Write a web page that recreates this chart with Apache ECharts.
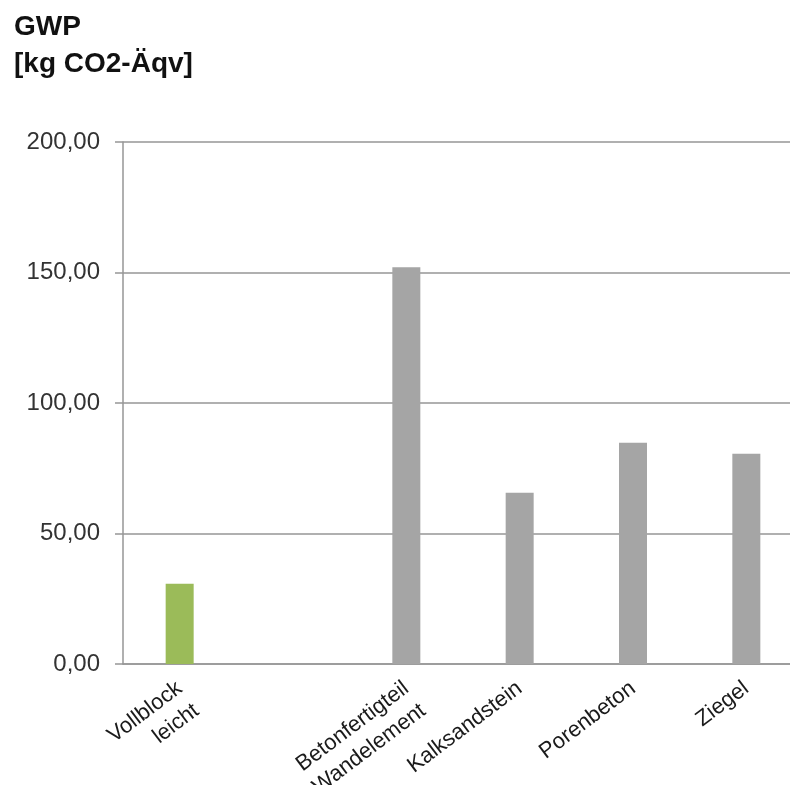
<!DOCTYPE html>
<html>
<head>
<meta charset="utf-8">
<script src="https://cdn.jsdelivr.net/npm/echarts@6/dist/echarts.min.js"></script>
<style>
  html, body { margin: 0; padding: 0; background: #fff; overflow: hidden; }
  #chart { width: 820px; height: 785px; }
</style>
</head>
<body>
<div id="chart"></div>
<script>
// Kategorien (zweite Position bleibt leer wie im Original)
var categories = ['Vollblock\nleicht', '', 'Betonfertigteil\nWandelement', 'Kalksandstein', 'Porenbeton', 'Ziegel'];
var gwpValues = [30.7, null, 152, 65.6, 84.8, 80.6];
var barColors = ['#9bbb59', '#a5a5a5', '#a5a5a5', '#a5a5a5', '#a5a5a5', '#a5a5a5'];
var yTicks = [0, 50, 100, 150, 200];

// Diagramm ragt rechts etwas über den sichtbaren Bereich hinaus (wie im Original abgeschnitten)
var chart = echarts.init(document.getElementById('chart'));
chart.setOption({
    animation: false,
    textStyle: { fontFamily: 'Liberation Sans, Arial, sans-serif' },
    title: {
        text: 'GWP\n[kg CO2-Äqv]',
        left: 9,
        top: 4,
        textStyle: {
            fontSize: 28,
            fontWeight: 'bold',
            lineHeight: 37,
            color: '#111',
            fontFamily: 'Liberation Sans, Arial, sans-serif'
        }
    },
    grid: {
        left: 123,
        width: 680,
        top: 142,
        bottom: 121,
        containLabel: false,
        outerBoundsMode: 'none'
    },
    xAxis: {
        type: 'category',
        data: categories,
        axisTick: { show: false },
        axisLine: { lineStyle: { color: '#969696', width: 1.5 } },
        axisLabel: {
            interval: 0,
            rotate: 37,
            margin: 22,
            fontSize: 22,
            lineHeight: 28,
            color: '#1a1a1a',
            // erste Zeile wie einzeilige Beschriftungen ausrichten
            formatter: function (v) { return v.indexOf('\n') >= 0 ? '\n' + v : v; }
        }
    },
    yAxis: {
        type: 'value',
        min: yTicks[0],
        max: yTicks[yTicks.length - 1],
        interval: 50,
        axisLine: { show: true, lineStyle: { color: '#969696', width: 1.5 } },
        axisTick: { show: true, length: 8, lineStyle: { color: '#969696', width: 1.5 } },
        splitLine: { lineStyle: { color: '#969696', width: 1.5 } },
        axisLabel: {
            margin: 23,
            fontSize: 24,
            color: '#333',
            formatter: function (v) { return v.toFixed(2).replace('.', ','); }
        }
    },
    series: [{
        type: 'bar',
        barWidth: 28,
        data: gwpValues.map(function (v, i) {
            return { value: v, itemStyle: { color: barColors[i] } };
        })
    }]
});
</script>
</body>
</html>
